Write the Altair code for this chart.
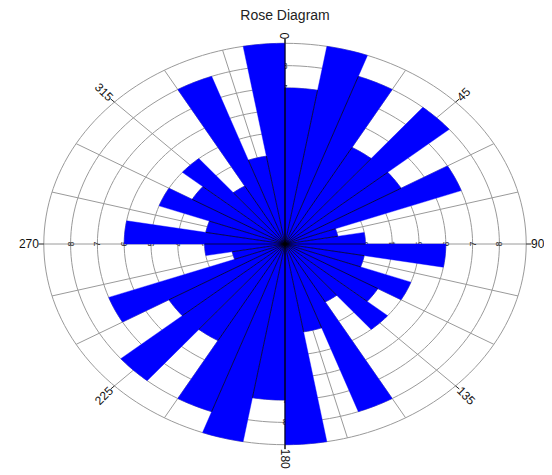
import altair as alt
import numpy as np
import pandas as pd

# ---------------- data ----------------
title_text = "Rose Diagram"
bin_start = list(range(0, 360, 10))          # 10-degree petals
bin_width = 10
counts = [7, 9, 8, 5, 8, 5, 7, 2, 3, 6, 3, 5, 4, 5, 3, 8, 4, 9,
          7, 9, 8, 5, 8, 5, 7, 2, 3, 6, 3, 5, 4, 5, 3, 8, 4, 9]
ring_values = [1, 2, 3, 4, 5, 6, 7, 8, 9]
spoke_angles = list(range(0, 360, 15))
compass_angles = [0, 45, 90, 135, 180, 225, 270, 315]
compass_labels = ["0", "45", "90", "135", "180", "225", "270", "315"]
radial_tick_values = [1, 2, 3, 4, 5, 6, 7, 8]
radial_axes = [0, 90, 180, 270]
r_max = max(ring_values)

# ---------------- layout ----------------
PAD_TOP = 31
W, H = 536, 428          # plot area (pixels)
CX, CY = 277, 205        # centre of the rose inside the plot area
UX, UY = 26.8, 22.3      # pixels per unit horizontally / vertically (ellipse)
xs = alt.Scale(domain=[-CX / UX, (W - CX) / UX], nice=False, zero=False)
ys = alt.Scale(domain=[-(H - CY) / UY, CY / UY], nice=False, zero=False)
FONT = "Liberation Sans"


def pol(r, a):
    t = np.deg2rad(a)
    return r * np.sin(t), r * np.cos(t)


def X(f):
    return alt.X(f, type="quantitative", scale=xs, axis=None)


def Y(f):
    return alt.Y(f, type="quantitative", scale=ys, axis=None)


# wedges (petals) as closed polygons
rows = []
for s, v in zip(bin_start, counts):
    rows.append({"bin": s, "k": 0, "x": 0.0, "y": 0.0})
    for j, a in enumerate(np.linspace(s, s + bin_width, 11)):
        x, y = pol(v, a)
        rows.append({"bin": s, "k": j + 1, "x": x, "y": y})
wedge_df = pd.DataFrame(rows)

# grid rings
rows = []
for r in ring_values:
    for j, a in enumerate(range(0, 362, 2)):
        x, y = pol(r, a)
        rows.append({"ring": r, "k": j, "x": x, "y": y})
ring_df = pd.DataFrame(rows)

# spokes
spk = []
for a in spoke_angles:
    x, y = pol(r_max, a)
    spk.append({"x0": 0.0, "y0": 0.0, "x1": x, "y1": y})
spoke_df = pd.DataFrame(spk)

# separators between neighbouring petals
sep = []
for i, s in enumerate(bin_start):
    L = min(counts[i - 1], counts[i])
    x, y = pol(L, s)
    sep.append({"x0": 0.0, "y0": 0.0, "x1": x, "y1": y})
sep_df = pd.DataFrame(sep)

# vertical (0-180) axis line
vx0, vy0 = pol(r_max * 1.022, 0)
vx1, vy1 = pol(r_max * 1.022, 180)
vaxis_df = pd.DataFrame([{"x0": vx0, "y0": vy0, "x1": vx1, "y1": vy1}])

# ticks at compass labels
tk = []
for a in compass_angles:
    x0, y0 = pol(r_max, a)
    x1, y1 = pol(r_max * 1.022, a)
    tk.append({"x0": x0, "y0": y0, "x1": x1, "y1": y1})
tick_df = pd.DataFrame(tk)

# compass labels
cl = []
for a, lab in zip(compass_angles, compass_labels):
    x, y = pol(r_max * 1.02, a)
    if a <= 180:
        cl.append({"x": x, "y": y, "label": lab, "rot": (a - 90) % 360, "side": "L"})
    else:
        cl.append({"x": x, "y": y, "label": lab, "rot": (a - 270) % 360, "side": "R"})
comp_df = pd.DataFrame(cl)

# radial value labels along the four axes
rl = []
for a in radial_axes:
    for v in radial_tick_values:
        x, y = pol(v, a)
        rl.append({"x": x, "y": y, "label": str(v), "rot": 270 if a in (90, 270) else 0})
rlab_df = pd.DataFrame(rl)

title_df = pd.DataFrame({"t": [title_text]})

# ---------------- layers ----------------
rings = alt.Chart(ring_df).mark_line(color="#9a9a9a", strokeWidth=1).encode(
    x=X("x"), y=Y("y"), detail="ring:N", order="k:Q")

spokes = alt.Chart(spoke_df).mark_rule(color="#9a9a9a", strokeWidth=1).encode(
    x=X("x0"), y=Y("y0"), x2="x1", y2="y1")

rlabels = alt.Chart(rlab_df).mark_text(font=FONT, fontSize=9, color="#333333",
                                       baseline="middle", align="center").encode(
    x=X("x"), y=Y("y"), text="label:N", angle=alt.Angle("rot:Q", scale=None))

wedges = alt.Chart(wedge_df).mark_line(interpolate="linear-closed", fill="#0000ff",
                                       stroke="#0000ff", strokeWidth=0.4).encode(
    x=X("x"), y=Y("y"), detail="bin:N", order="k:Q")

seps = alt.Chart(sep_df).mark_rule(color="#000000", strokeWidth=0.7).encode(
    x=X("x0"), y=Y("y0"), x2="x1", y2="y1")

vaxis = alt.Chart(vaxis_df).mark_rule(color="#000000", strokeWidth=1).encode(
    x=X("x0"), y=Y("y0"), x2="x1", y2="y1")

ticks = alt.Chart(tick_df).mark_rule(color="#222222", strokeWidth=1).encode(
    x=X("x0"), y=Y("y0"), x2="x1", y2="y1")

clab_l = alt.Chart(comp_df).transform_filter(alt.datum.side == "L").mark_text(
    font=FONT, fontSize=12, color="#111111", align="left", baseline="middle").encode(
    x=X("x"), y=Y("y"), text="label:N", angle=alt.Angle("rot:Q", scale=None))

clab_r = alt.Chart(comp_df).transform_filter(alt.datum.side == "R").mark_text(
    font=FONT, fontSize=12, color="#111111", align="right", baseline="middle").encode(
    x=X("x"), y=Y("y"), text="label:N", angle=alt.Angle("rot:Q", scale=None))

title = alt.Chart(title_df).mark_text(
    font=FONT, fontSize=14, color="#222222", align="center", baseline="top").encode(
    x=alt.value(CX), y=alt.value(1 - PAD_TOP), text="t:N")

chart = alt.layer(rings, spokes, rlabels, wedges, seps, vaxis, ticks, clab_l, clab_r, title).properties(
    width=W, height=H,
    padding={"left": 0, "right": 0, "top": PAD_TOP, "bottom": 6},
    autosize=alt.AutoSizeParams(type="none"),
).configure_view(strokeWidth=0)

chart.save("out.html", embed_options={"renderer": "svg", "actions": False})
